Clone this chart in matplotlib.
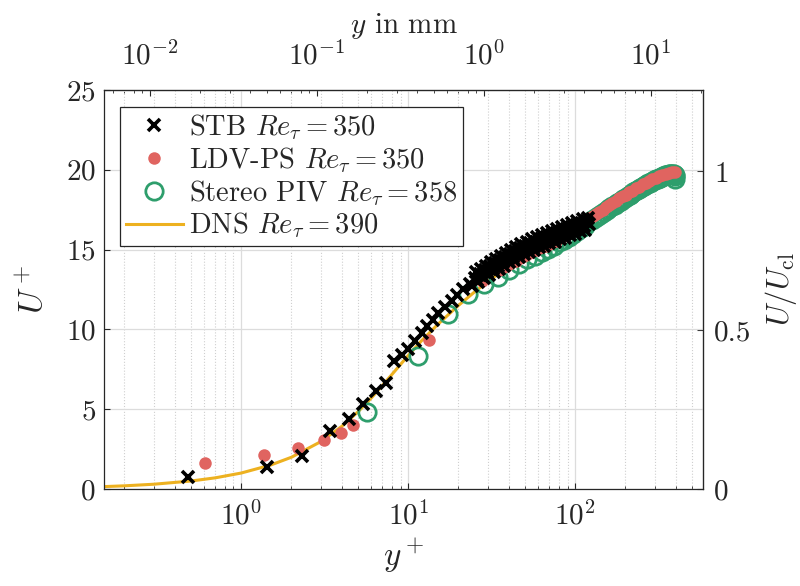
import numpy as np
import matplotlib.pyplot as plt

plt.rcParams['font.family'] = 'serif'
plt.rcParams['font.serif'] = ['cmr10']
plt.rcParams['mathtext.fontset'] = 'cm'
plt.rcParams['axes.formatter.use_mathtext'] = True
plt.rcParams['text.color'] = '#262626'
plt.rcParams['axes.labelcolor'] = '#262626'
plt.rcParams['xtick.color'] = '#262626'
plt.rcParams['ytick.color'] = '#262626'

# DNS Re_tau = 390
dns_y = [0.15, 0.2, 0.3, 0.5, 0.7, 1, 1.5, 2, 3, 4, 5, 6, 7, 8, 10, 12, 15, 20,
         25, 30, 40, 50, 70, 100, 150, 200, 300, 390]
dns_u = [0.15, 0.2, 0.3, 0.5, 0.7, 1.0, 1.5, 1.99, 2.97, 3.92, 4.83, 5.69, 6.48,
         7.18, 8.36, 9.28, 10.3, 11.5, 12.35, 13.0, 13.95, 14.65, 15.6, 16.55,
         17.6, 18.35, 19.3, 19.7]

# STB Re_tau = 350
stb_y = [0.478, 1.43, 2.32, 3.42, 4.4, 5.37, 6.45, 7.36, 8.2, 9.2, 10.0, 11.0,
         12.1, 12.9, 14.1, 15.1, 16.6, 18.3, 19.6, 21.4, 23.5,
         25.0, 25.9, 26.8, 27.8, 28.8, 29.8, 30.9, 32.0, 33.1, 34.3, 35.5, 36.8,
         38.1, 39.4, 40.8, 42.3, 43.8, 45.3, 46.9, 48.6, 50.3, 52.1, 54.0, 55.9,
         57.9, 59.9, 62.1, 64.3, 66.5, 68.9, 71.4, 73.9, 76.5, 79.2, 82.1, 85.0,
         88.0, 91.1, 94.4, 97.7, 101, 105, 109, 113, 117, 121,
         24.0, 25.4, 26.3, 27.3, 28.3, 29.3, 30.3, 31.4, 32.5, 33.7, 34.9, 36.1,
         37.4, 38.7, 40.1, 41.5, 43.0, 44.5, 46.1, 47.7, 49.4, 51.2, 53.0, 54.9,
         56.9, 58.9, 61.0, 63.2, 65.4, 67.7, 70.1, 72.6, 75.2, 77.8, 80.6, 83.5,
         86.5, 89.5, 92.7, 96.0, 99.3, 103, 107, 111, 115, 119]
stb_u = [0.77, 1.35, 2.06, 3.65, 4.4, 5.3, 6.15, 6.65, 8.0, 8.4, 8.75, 9.25,
         9.8, 10.2, 10.6, 11.05, 11.4, 11.8, 12.15, 12.5, 12.85,
         13.25, 13.1, 13.5, 13.35, 13.75, 13.6, 13.95, 13.8, 14.15, 14.0, 14.35,
         14.2, 14.55, 14.4, 14.75, 14.55, 14.9, 14.75, 15.1, 14.9, 15.25, 15.05,
         15.4, 15.2, 15.5, 15.35, 15.65, 15.45, 15.75, 15.55, 15.85, 15.65, 15.95,
         15.8, 16.1, 15.9, 16.2, 16.05, 16.35, 16.2, 16.5, 16.35, 16.6, 16.45,
         16.7, 16.6,
         12.7, 13.6, 13.0, 13.8, 13.2, 14.0, 13.4, 14.2, 13.6, 14.4, 13.8, 14.6,
         14.0, 14.8, 14.2, 15.0, 14.35, 15.15, 14.55, 15.35, 14.7, 15.5, 14.85,
         15.65, 15.0, 15.8, 15.15, 15.9, 15.25, 16.05, 15.4, 16.15, 15.5, 16.3,
         15.65, 16.4, 15.75, 16.55, 15.9, 16.65, 16.0, 16.8, 16.15, 16.9, 16.25,
         16.95]

# LDV-PS Re_tau = 350
ldv_y = [0.61, 1.375, 2.2, 3.12, 3.96, 4.66, 13.3, 27.5,
         35, 36.6, 38.3, 40.1, 42, 44, 46.1, 48.3, 50.5, 52.9, 55.4, 58, 60.7,
         63.6, 66.6, 69.7, 73, 76.4, 80, 83.8, 87.7, 91.8, 96.1, 101, 105, 110,
         116, 121, 127, 133, 139, 146, 152, 160, 167, 175, 183, 192, 201, 210,
         220, 231, 242, 253, 265, 277, 290, 304, 318, 333, 349, 365, 382, 395]
ldv_u = [1.64, 2.12, 2.58, 3.06, 3.54, 4.0, 9.35, 13.05,
         13.75, 13.85, 13.95, 14.1, 14.2, 14.3, 14.45, 14.55, 14.65, 14.8, 14.9,
         15.0, 15.1, 15.15, 15.25, 15.35, 15.45, 15.55, 15.7, 15.8, 15.95, 16.05,
         16.2, 16.35, 16.5, 16.65, 16.8, 16.95, 17.1, 17.25, 17.35, 17.5, 17.65,
         17.8, 17.9, 18.05, 18.2, 18.35, 18.45, 18.6, 18.7, 18.85, 18.95, 19.1,
         19.2, 19.3, 19.4, 19.5, 19.6, 19.7, 19.75, 19.8, 19.85, 19.85]

# Stereo PIV Re_tau = 358
piv_y = [5.7, 11.4, 17.2, 22.9, 28.6, 34.3, 40.0, 45.8, 51.5, 57.2, 62.9, 68.6,
         74.4, 80.1, 85.8, 91.5, 97.2, 103, 109, 114, 120, 126, 132, 137, 143,
         149, 154, 160, 166, 172, 177, 183, 189, 194, 200, 206, 212, 217, 223,
         229, 234, 240, 246, 252, 257, 263, 269, 274, 280, 286, 292, 297, 303,
         309, 314, 320, 326, 332, 337, 343, 349, 354, 360, 366, 372, 377, 383,
         389, 394, 395, 395]
piv_u = [4.85, 8.35, 10.95, 12.2, 12.85, 13.3, 13.75, 14.1, 14.4, 14.6, 14.85,
         15.05, 15.25, 15.45, 15.6, 15.8, 16.0, 16.15, 16.35, 16.5, 16.7, 16.85,
         17.0, 17.1, 17.25, 17.35, 17.45, 17.6, 17.7, 17.8, 17.9, 18.0, 18.05,
         18.15, 18.25, 18.35, 18.4, 18.5, 18.6, 18.65, 18.75, 18.8, 18.85, 18.95,
         19.0, 19.05, 19.1, 19.15, 19.2, 19.25, 19.3, 19.35, 19.4, 19.4, 19.45,
         19.5, 19.55, 19.55, 19.6, 19.65, 19.65, 19.7, 19.7, 19.75, 19.75, 19.75,
         19.75, 19.75, 19.7, 19.6, 19.45]

yplus_per_mm = 28.4
u_cl = 19.9

fig = plt.figure(figsize=(8, 5.86), dpi=100)
ax = fig.add_axes([0.13, 0.1655, 0.749, 0.681])

l_dns, = ax.plot(dns_y, dns_u, color='#EDB120', lw=2.2, zorder=2)
l_piv, = ax.plot(piv_y, piv_u, 'o', mfc='none', mec='#2E9E6C', ms=12.5, mew=2,
                 zorder=3)
l_ldv, = ax.plot(ldv_y, ldv_u, 'o', color='#E06460', ms=9, mew=0, zorder=4)
l_stb, = ax.plot(stb_y, stb_u, 'x', color='black', ms=8, mew=2.6, zorder=5)

ax.set_xscale('log')
ax.set_xlim(0.151, 584)
ax.set_ylim(0, 25)
ax.set_yticks([0, 5, 10, 15, 20, 25])
ax.grid(True, which='major', color='#dcdcdc', lw=0.9, ls='-')
ax.grid(True, which='minor', axis='x', color='#cfcfcf', lw=0.8, ls=':')
ax.tick_params(which='both', direction='in', top=False, right=False,
               labelsize=21)
ax.tick_params(axis='x', pad=9)
ax.tick_params(axis='y', pad=6)
ax.tick_params(which='major', length=4, width=0.8)
ax.tick_params(which='minor', length=2.5, width=0.6)
for s in ax.spines.values():
    s.set_color('#262626')
    s.set_linewidth(0.9)

ax.set_xlabel(r'$y^+$', fontsize=24, labelpad=4)
ax.set_ylabel(r'$U^+$', fontsize=24, labelpad=12)

top = ax.secondary_xaxis('top', functions=(lambda x: x / yplus_per_mm,
                                           lambda x: x * yplus_per_mm))
top.set_xticks([1e-2, 1e-1, 1, 10])
top.tick_params(which='both', direction='in', labelsize=21, pad=14)
top.tick_params(which='major', length=4, width=0.8)
top.tick_params(which='minor', length=2.5, width=0.6)
top.set_xlabel(r'$y$ in mm', fontsize=21, labelpad=6)

right = ax.secondary_yaxis('right', functions=(lambda u: u / u_cl,
                                               lambda r: r * u_cl))
right.set_yticks([0, 0.5, 1])
right.set_yticklabels(['0', '0.5', '1'])
right.tick_params(direction='in', labelsize=21, length=4, width=0.8, pad=8)
right.set_ylabel(r'$U/U_\mathrm{cl}$', fontsize=22, labelpad=8)

leg = ax.legend([l_stb, l_ldv, l_piv, l_dns],
                [r'STB $Re_\tau = 350$', r'LDV-PS $Re_\tau = 350$',
                 r'Stereo PIV $Re_\tau = 358$', r'DNS $Re_\tau = 390$'],
                loc='upper left', bbox_to_anchor=(0.027, 0.958),
                borderaxespad=0, fontsize=20.5, fancybox=False,
                edgecolor='#262626', framealpha=1, handlelength=2.0,
                handletextpad=0.2, labelspacing=0.1, borderpad=0.2)
leg.get_frame().set_linewidth(0.9)

fig.savefig('out.png', dpi=100)
